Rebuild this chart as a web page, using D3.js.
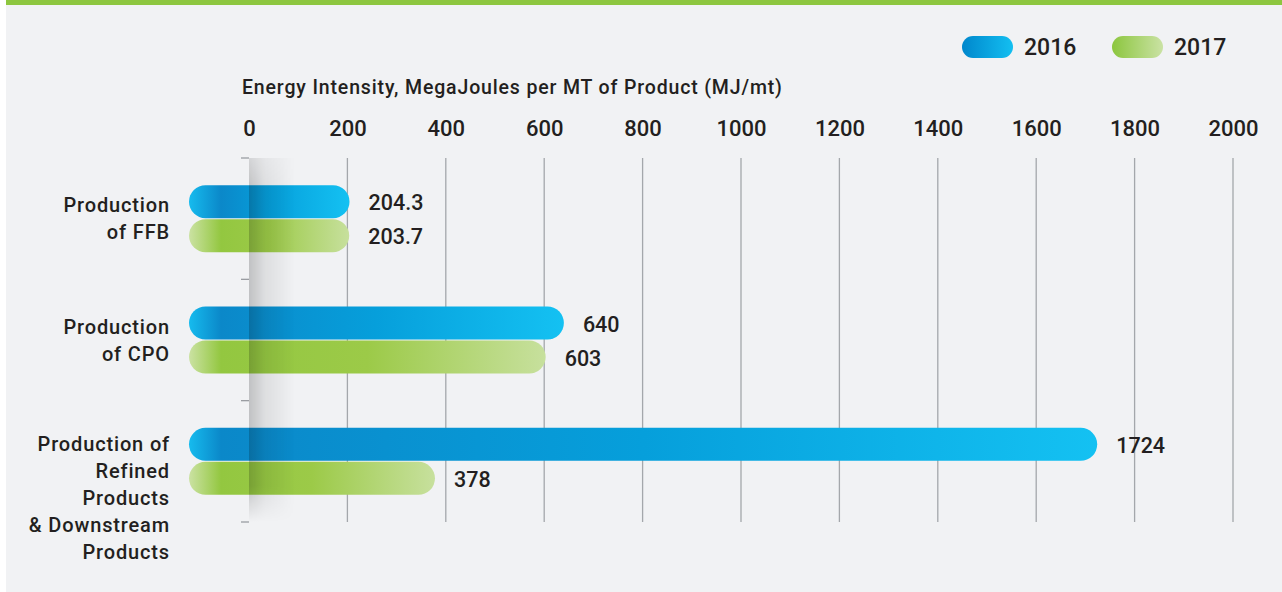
<!DOCTYPE html>
<html><head><meta charset="utf-8">
<script src="https://cdn.jsdelivr.net/npm/d3@7"></script>
<style>
html,body{margin:0;padding:0;background:#fff;}
svg{display:block;font-family:Roboto, "Noto Sans", sans-serif;font-weight:500;}
</style></head>
<body><svg id="chart" width="1282" height="592"></svg>
<script>
const categories = [
  ["Production", "of FFB"],
  ["Production", "of CPO"],
  ["Production of", "Refined", "Products", "& Downstream", "Products"]
];
const seriesNames = ["2016", "2017"];
const values2016 = [204.3, 640, 1724];
const values2017 = [203.7, 603, 378];
const valueLabels2016 = ["204.3", "640", "1724"];
const valueLabels2017 = ["203.7", "603", "378"];
const tickValues = [0, 200, 400, 600, 800, 1000, 1200, 1400, 1600, 1800, 2000];
const axisTitle = "Energy Intensity, MegaJoules per MT of Product (MJ/mt)";

const svg = d3.select("#chart");
const W = 1282, H = 592;
const textColor = "#231f20";

// background
svg.append("rect").attr("x", 6).attr("y", 0).attr("width", W - 6).attr("height", H).attr("fill", "#f1f2f4");
svg.append("rect").attr("x", 6).attr("y", 0).attr("width", W - 6).attr("height", 5).attr("fill", "#8dc63f");

const defs = svg.append("defs");

const x = d3.scaleLinear().domain([0, 2000]).range([249, 1233]);
const y = d3.scaleBand().domain(d3.range(categories.length)).range([158, 522]).padding(0);
const barH = 33, barGap = 1, capExt = 60;

// gridlines (not at 0)
svg.append("g").selectAll("line").data(tickValues.filter(d => d > 0)).join("line")
  .attr("x1", d => x(d)).attr("x2", d => x(d))
  .attr("y1", 158).attr("y2", 522)
  .attr("stroke", "#a4a7ab").attr("stroke-width", 1.3);

// top axis labels
const xAxis = d3.axisTop(x).tickValues(tickValues).tickSize(0).tickPadding(0).tickFormat(d3.format("d"));
const gx = svg.append("g").attr("transform", "translate(0,136)").call(xAxis);
gx.select(".domain").remove();
gx.selectAll("text").attr("fill", textColor).attr("font-size", 22).attr("font-family", "Roboto")
  .attr("font-weight", 500).attr("dy", 0);

svg.append("text").attr("x", 242).attr("y", 94).attr("fill", textColor)
  .attr("font-size", 19.5).attr("letter-spacing", 0.85).text(axisTitle);

// y tick marks at band boundaries
const yTicks = d3.range(categories.length + 1).map(i => i < categories.length ? y(i) : y.range()[1]);
svg.append("g").selectAll("line").data(yTicks).join("line")
  .attr("x1", 241).attr("x2", 249).attr("y1", d => d).attr("y2", d => d)
  .attr("stroke", "#9a9da2").attr("stroke-width", 1.3);

// gradients
function barGradient(id, x0, x1, stops) {
  const g = defs.append("linearGradient").attr("id", id)
    .attr("gradientUnits", "userSpaceOnUse").attr("x1", x0).attr("x2", x1).attr("y1", 0).attr("y2", 0);
  stops.forEach(s => g.append("stop").attr("offset", s[0]).attr("stop-color", s[1]));
}

const series = [
  {name: "2016", vals: values2016, labels: valueLabels2016, colors: ["#16bbee", "#0b88c9", "#069fdb", "#14c1f2"], legend: ["#0087cc", "#13bff1"]},
  {name: "2017", vals: values2017, labels: valueLabels2017, colors: ["#cbe2a3", "#93c740", "#9cca48", "#c7e09d"], legend: ["#8cc63e", "#cae2a4"]}
];

const bars = svg.append("g");
series.forEach((s, si) => {
  s.vals.forEach((v, i) => {
    const c = y(i) + y.bandwidth() / 2;
    const top = si === 0 ? c - barGap / 2 - barH : c + barGap / 2;
    const x0 = x(0) - capExt, x1 = x(v);
    const id = "g" + si + "_" + i;
    const w = x1 - x0;
    barGradient(id, x0, x1, [[0, s.colors[0]], [Math.min(0.45, 32 / w), s.colors[1]], [0.5, s.colors[2]], [1, s.colors[3]]]);
    bars.append("rect").attr("x", x0).attr("y", top).attr("width", w).attr("height", barH)
      .attr("rx", barH / 2).attr("ry", barH / 2).attr("fill", `url(#${id})`);
    bars.append("text").attr("x", x1 + 19).attr("y", top + barH / 2 + 8.5)
      .attr("fill", textColor).attr("font-size", 21.5).text(s.labels[i]);
  });
});

// shadow strip at zero
const sg = defs.append("linearGradient").attr("id", "shadow").attr("x1", 0).attr("x2", 1).attr("y1", 0).attr("y2", 0);
sg.append("stop").attr("offset", 0).attr("stop-color", "#000").attr("stop-opacity", 0.2);
sg.append("stop").attr("offset", 0.35).attr("stop-color", "#000").attr("stop-opacity", 0.08);
sg.append("stop").attr("offset", 1).attr("stop-color", "#000").attr("stop-opacity", 0);
const sv = defs.append("linearGradient").attr("id", "shadowMask").attr("x1", 0).attr("x2", 0).attr("y1", 0).attr("y2", 1);
sv.append("stop").attr("offset", 0).attr("stop-color", "#fff").attr("stop-opacity", 0.6);
sv.append("stop").attr("offset", 0.08).attr("stop-color", "#fff").attr("stop-opacity", 1);
sv.append("stop").attr("offset", 0.9).attr("stop-color", "#fff").attr("stop-opacity", 1);
sv.append("stop").attr("offset", 1).attr("stop-color", "#fff").attr("stop-opacity", 0);
const mask = defs.append("mask").attr("id", "smask");
mask.append("rect").attr("x", x(0)).attr("y", 158).attr("width", 46).attr("height", 364).attr("fill", "url(#shadowMask)");
svg.append("rect").attr("x", x(0)).attr("y", 158).attr("width", 46).attr("height", 364)
  .attr("fill", "url(#shadow)").attr("mask", "url(#smask)");

// category labels
const labels = svg.append("g");
categories.forEach((lines, i) => {
  const c = y(i) + y.bandwidth() / 2;
  const lh = 27;
  let first;
  if (lines.length <= 2) first = c - (lines.length - 1) * lh / 2 + 7.3;
  else first = c - barH / 2 + 7.3 - 1;
  const t = labels.append("text").attr("text-anchor", "end").attr("fill", textColor)
    .attr("font-size", 20).attr("letter-spacing", 0.85);
  lines.forEach((ln, k) => t.append("tspan").attr("x", 170).attr("y", first + k * lh).text(ln));
});

// legend
const lg = svg.append("g");
const legendX = [962, 1112];
series.forEach((s, si) => {
  const id = "lg" + si;
  const gr = defs.append("linearGradient").attr("id", id).attr("x1", 0).attr("x2", 1).attr("y1", 0).attr("y2", 0);
  gr.append("stop").attr("offset", 0).attr("stop-color", s.legend[0]);
  gr.append("stop").attr("offset", 1).attr("stop-color", s.legend[1]);
  lg.append("rect").attr("x", legendX[si]).attr("y", 36).attr("width", 51).attr("height", 22)
    .attr("rx", 11).attr("fill", `url(#${id})`);
  lg.append("text").attr("x", legendX[si] + 62).attr("y", 55).attr("fill", textColor)
    .attr("font-size", 23).text(s.name);
});
</script></body></html>
